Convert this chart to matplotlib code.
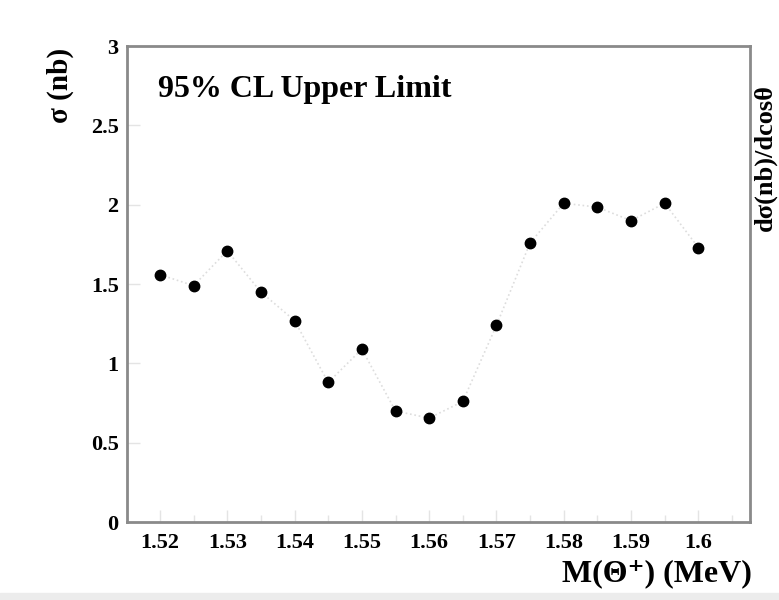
import matplotlib.pyplot as plt
from matplotlib.ticker import MultipleLocator

# Theta+ mass points (MeV axis label as in the original) and 95% CL upper limits
mass = [1.520, 1.525, 1.530, 1.535, 1.540, 1.545, 1.550, 1.555, 1.560,
        1.565, 1.570, 1.575, 1.580, 1.585, 1.590, 1.595, 1.600]
sigma_ul = [1.56, 1.49, 1.71, 1.45, 1.27, 0.88, 1.09, 0.70, 0.655,
            0.76, 1.24, 1.76, 2.01, 1.985, 1.90, 2.01, 1.73]
xticks = [1.52, 1.53, 1.54, 1.55, 1.56, 1.57, 1.58, 1.59, 1.60]
xticklabels = ['1.52', '1.53', '1.54', '1.55', '1.56', '1.57', '1.58', '1.59', '1.6']
yticks = [0, 0.5, 1, 1.5, 2, 2.5, 3]
yticklabels = ['0', '0.5', '1', '1.5', '2', '2.5', '3']

plt.rcParams['font.family'] = ['Liberation Serif', 'DejaVu Serif']
plt.rcParams['font.weight'] = 'bold'

fig = plt.figure(figsize=(7.79, 6.0), dpi=100)
ax = fig.add_axes([0.163, 0.13, 0.8, 0.793])

ax.plot(mass, sigma_ul, color='#dddddd', linestyle=':', linewidth=1.2, zorder=1)
ax.plot(mass, sigma_ul, 'o', color='black', markersize=7.5, zorder=2)

ax.set_xlim(1.5151, 1.6077)
ax.set_ylim(0, 3)
ax.set_xticks(xticks)
ax.set_xticklabels(xticklabels)
ax.set_yticks(yticks)
ax.set_yticklabels(yticklabels)
ax.xaxis.set_minor_locator(MultipleLocator(0.005))
ax.tick_params(which='both', direction='in', color='#e4e4e4', labelsize=16)
ax.tick_params(which='major', length=9, width=1)
ax.tick_params(which='minor', length=5, width=1)
ax.tick_params(axis='x', pad=8)
ax.tick_params(axis='y', pad=6)
for lab in ax.get_xticklabels() + ax.get_yticklabels():
    lab.set_fontweight('bold')
for s in ax.spines.values():
    s.set_color('#8a8a8a')
    s.set_linewidth(2)

ax.text(0.05, 0.91, '95% CL Upper Limit', transform=ax.transAxes,
        fontsize=23, fontweight='bold', va='center', ha='left')
fig.text(0.965, 0.02, 'M(Θ⁺) (MeV)', fontsize=23,
         fontweight='bold', ha='right', va='bottom')
fig.text(0.077, 0.92, 'σ (nb)', rotation=90, fontsize=21,
         fontweight='bold', ha='center', va='top')
# label of the neighbouring panel at the right edge
fig.text(0.997, 0.86, 'dσ(nb)/dcosθ', rotation=90, fontsize=19,
         fontweight='bold', ha='right', va='top')

# light strip at the bottom of the scan
fig.patches.append(plt.Rectangle((0, 0), 1, 0.012, transform=fig.transFigure,
                                 color='#ececec', zorder=0))

fig.savefig('out.png', dpi=100)
